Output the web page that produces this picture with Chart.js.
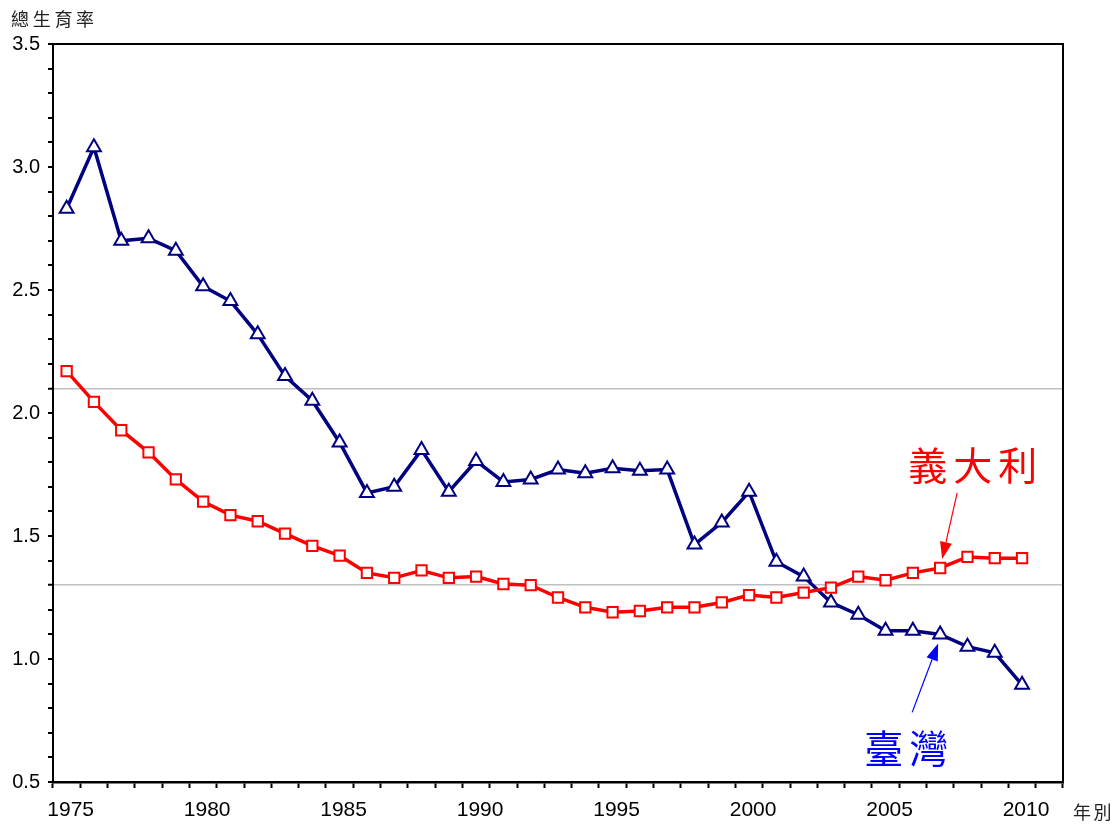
<!DOCTYPE html>
<html>
<head>
<meta charset="utf-8">
<script src="https://cdn.jsdelivr.net/npm/chart.js@4.4.0/dist/chart.umd.min.js"></script>
<style>
  html, body { margin: 0; padding: 0; background: #fff; }
  #wrap { position: relative; width: 1119px; height: 825px; }
</style>
</head>
<body>
<div id="wrap"><canvas id="tfrChart" width="1119" height="825"></canvas></div>
<script>
// categories: one slot per year, the last slot (2011) is empty like the original axis
const years = [1975, 1976, 1977, 1978, 1979, 1980, 1981, 1982, 1983, 1984,
               1985, 1986, 1987, 1988, 1989, 1990, 1991, 1992, 1993, 1994,
               1995, 1996, 1997, 1998, 1999, 2000, 2001, 2002, 2003, 2004,
               2005, 2006, 2007, 2008, 2009, 2010, 2011];

// 臺灣 total fertility rate
const taiwanTFR = [2.83, 3.08, 2.70, 2.71, 2.66, 2.515, 2.455, 2.32, 2.15, 2.05,
                   1.88, 1.675, 1.70, 1.85, 1.68, 1.805, 1.72, 1.73, 1.77, 1.755,
                   1.775, 1.765, 1.77, 1.465, 1.555, 1.68, 1.395, 1.335, 1.23, 1.18,
                   1.115, 1.115, 1.10, 1.05, 1.025, 0.895];

// 義大利 total fertility rate
const italyTFR = [2.17, 2.045, 1.93, 1.84, 1.73, 1.64, 1.585, 1.56, 1.51, 1.46,
                  1.42, 1.35, 1.33, 1.36, 1.33, 1.335, 1.305, 1.30, 1.25, 1.21,
                  1.19, 1.195, 1.21, 1.21, 1.23, 1.26, 1.25, 1.27, 1.29, 1.335,
                  1.32, 1.35, 1.37, 1.415, 1.41, 1.41];

const xTickLabels = [1975, 1980, 1985, 1990, 1995, 2000, 2005, 2010];
const yTickLabels = ['0.5', '1.0', '1.5', '2.0', '2.5', '3.0', '3.5'];
const refLines = [2.1, 1.3];

const pointedYear = 2007;

function isRefLine(v) {
  return refLines.some(r => Math.abs(v - r) < 1e-6);
}

function spacedText(ctx, text, x, y, pitch) {
  [...text].forEach((ch, i) => ctx.fillText(ch, x + i * pitch, y));
}

function arrow(ctx, x1, y1, x2, y2, color) {
  const ang = Math.atan2(y2 - y1, x2 - x1);
  const headLen = 17, headHalf = 6;
  const bx = x2 - Math.cos(ang) * headLen, by = y2 - Math.sin(ang) * headLen;
  ctx.strokeStyle = color;
  ctx.fillStyle = color;
  ctx.lineWidth = 1.2;
  ctx.beginPath();
  ctx.moveTo(x1, y1);
  ctx.lineTo(bx, by);
  ctx.stroke();
  ctx.beginPath();
  ctx.moveTo(x2, y2);
  ctx.lineTo(bx + Math.sin(ang) * headHalf, by - Math.cos(ang) * headHalf);
  ctx.lineTo(bx - Math.sin(ang) * headHalf, by + Math.cos(ang) * headHalf);
  ctx.closePath();
  ctx.fill();
}

const decorations = {
  id: 'decorations',
  afterDraw(chart) {
    const { ctx, chartArea: a, scales: { x, y } } = chart;
    ctx.save();

    // frame: top + right
    ctx.strokeStyle = '#000';
    ctx.lineWidth = 2;
    ctx.beginPath();
    ctx.moveTo(a.left, a.top);
    ctx.lineTo(a.right, a.top);
    ctx.lineTo(a.right, a.bottom);
    ctx.stroke();

    // axis titles
    ctx.fillStyle = '#222';
    ctx.font = '18px "Noto Sans CJK TC", sans-serif';
    ctx.textAlign = 'left';
    ctx.textBaseline = 'middle';
    spacedText(ctx, '總生育率', 11, 19, 21.7);
    spacedText(ctx, '年別', 1073, 812, 20.5);

    // series labels with arrows
    const i = years.indexOf(pointedYear);
    const px = x.getPixelForValue(i);
    const itY = y.getPixelForValue(italyTFR[i]);
    const twY = y.getPixelForValue(taiwanTFR[i]);

    ctx.font = '39px "Noto Sans CJK TC", sans-serif';
    ctx.fillStyle = '#ff0000';
    spacedText(ctx, '義大利', px - 32, itY - 103, 45);
    arrow(ctx, px + 17, itY - 75, px + 2, itY - 9, '#ff0000');

    ctx.fillStyle = '#0000ff';
    spacedText(ctx, '臺灣', px - 76, twY + 114, 45);
    arrow(ctx, px - 28, twY + 78, px - 2, twY + 9, '#0000ff');

    ctx.restore();
  }
};

new Chart(document.getElementById('tfrChart'), {
  type: 'line',
  data: {
    labels: years,
    datasets: [
      {
        label: '義大利',
        data: italyTFR,
        borderColor: '#ff0000',
        borderWidth: 3.5,
        pointStyle: 'rect',
        pointRadius: 7.3,
        pointBorderWidth: 2,
        pointBackgroundColor: '#ffffff',
        pointBorderColor: '#ff0000',
        tension: 0
      },
      {
        label: '臺灣',
        data: taiwanTFR,
        borderColor: '#000080',
        borderWidth: 3.5,
        pointStyle: 'triangle',
        pointRadius: 8,
        pointBorderWidth: 2,
        pointBackgroundColor: '#ffffff',
        pointBorderColor: '#000080',
        tension: 0
      }
    ]
  },
  options: {
    responsive: false,
    devicePixelRatio: 1,
    animation: false,
    layout: { padding: { top: 44, right: 56, bottom: 0, left: 0 } },
    plugins: { legend: { display: false }, tooltip: { enabled: false } },
    scales: {
      x: {
        type: 'category',
        offset: true,
        grid: { offset: true, drawOnChartArea: false, drawTicks: true, tickLength: 6, tickWidth: 2, tickColor: '#000' },
        border: { color: '#000', width: 2.5 },
        ticks: {
          autoSkip: false,
          maxRotation: 0,
          padding: 10,
          labelOffset: 4,
          color: '#000',
          font: { family: '"Liberation Sans", Arial, sans-serif', size: 21 },
          callback: (v, idx) => xTickLabels.includes(years[idx]) ? String(years[idx]) : ''
        },
        afterFit: s => { s.height = 43; }
      },
      y: {
        min: 0.5,
        max: 3.5,
        grid: {
          drawTicks: true,
          tickLength: 5,
          tickWidth: 2,
          tickColor: '#000',
          color: c => isRefLine(c.tick.value) ? '#c0c0c0' : 'rgba(0,0,0,0)',
          lineWidth: c => isRefLine(c.tick.value) ? 1.5 : 0
        },
        border: { color: '#000', width: 2 },
        ticks: {
          stepSize: 0.1,
          maxTicksLimit: 100,
          autoSkip: false,
          padding: 8,
          color: '#000',
          font: { family: '"Liberation Sans", Arial, sans-serif', size: 20 },
          callback: v => {
            const s = Number(v).toFixed(1);
            return yTickLabels.includes(s) && Math.abs(v * 10 - Math.round(v * 10)) < 1e-6 ? s : '';
          }
        },
        afterFit: s => { s.width = 53; }
      }
    }
  },
  plugins: [decorations]
});
</script>
</body>
</html>
